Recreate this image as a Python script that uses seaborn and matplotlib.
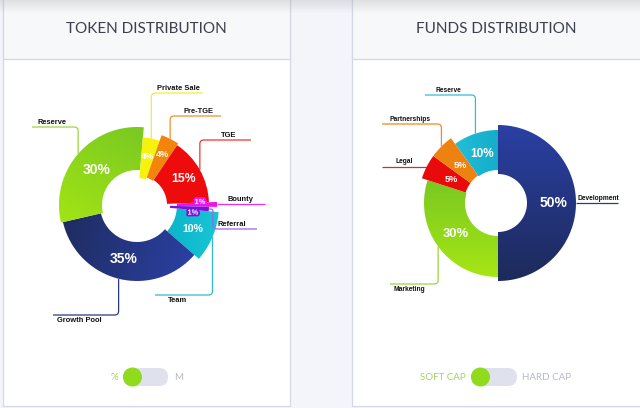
import numpy as np
import matplotlib
matplotlib.use("Agg")
import matplotlib.pyplot as plt
import matplotlib.patheffects as pe
import seaborn as sns
from matplotlib.colors import to_rgb
from matplotlib.path import Path
from matplotlib.patches import PathPatch, FancyBboxPatch, Rectangle, Circle

# ---------------- data ----------------
token_labels = ["Private Sale", "Pre-TGE", "TGE", "Bounty", "Referral", "Team", "Growth Pool", "Reserve"]
token_values = [4, 4, 15, 1, 1, 10, 35, 30]

funds_labels = ["Development", "Marketing", "Legal", "Partnerships", "Reserve"]
funds_values = [50, 30, 5, 5, 10]

panel_titles = ["TOKEN DISTRIBUTION", "FUNDS DISTRIBUTION"]
toggle_left = ["%", "M"]
toggle_right = ["SOFT CAP", "HARD CAP"]

# ---------------- style ----------------
sns.set_theme(style="white")
plt.rcParams["font.family"] = ["Liberation Sans", "DejaVu Sans"]

W, H = 640, 408
fig = plt.figure(figsize=(W / 100, H / 100), dpi=100)
fig.patch.set_facecolor("#f3f5fa")

bg = fig.add_axes([0, 0, 1, 1])
bg.set_xlim(0, W)
bg.set_ylim(H, 0)
bg.set_axis_off()

border = "#d4d8e6"
for x0, x1 in [(3, 290), (352, 646)]:
    bg.add_patch(Rectangle((x0, -2), x1 - x0, 408, facecolor="white", edgecolor=border, lw=0.9, zorder=1))
    bg.add_patch(Rectangle((x0, -2), x1 - x0, 61, facecolor="#f7f8fa", edgecolor=border, lw=0.9, zorder=1.1))

grad = np.zeros((14, 2, 4))
grad[..., :3] = 0.55
grad[..., 3] = np.linspace(0.22, 0.0, 14)[:, None]
bg.imshow(grad, extent=[0, W, 14, 0], aspect="auto", zorder=2, interpolation="bilinear")

for cx, t in zip([146, 496], panel_titles):
    bg.text(cx, 29, t, ha="center", va="center", fontsize=11, color="#3b404c",
            family=["Lato", "DejaVu Sans"], zorder=3)

green_knob = "#8fdb1c"
track = "#dfe2ec"
green_txt = "#9fd45e"
grey_txt = "#b6b9c6"
tfont = ["Lato", "DejaVu Sans"]
bg.add_patch(FancyBboxPatch((123, 368), 45, 18, boxstyle="round,pad=0,rounding_size=9",
                            facecolor=track, edgecolor="none", zorder=3))
bg.add_patch(Circle((132.5, 377), 9.5, facecolor=green_knob, edgecolor="none", zorder=4))
bg.text(118, 377.5, toggle_left[0], ha="right", va="center", fontsize=7, color=green_txt, family=tfont, zorder=4)
bg.text(174, 377.5, toggle_left[1], ha="left", va="center", fontsize=7, color=grey_txt, family=tfont, zorder=4)
bg.add_patch(FancyBboxPatch((471, 368), 46, 18, boxstyle="round,pad=0,rounding_size=9",
                            facecolor=track, edgecolor="none", zorder=3))
bg.add_patch(Circle((480.5, 377), 9.5, facecolor=green_knob, edgecolor="none", zorder=4))
bg.text(466, 377.5, toggle_right[0], ha="right", va="center", fontsize=7, color=green_txt, family=tfont, zorder=4)
bg.text(522, 377.5, toggle_right[1], ha="left", va="center", fontsize=7, color=grey_txt, family=tfont, zorder=4)


def leader(pts, color, rad=4.0):
    verts = [pts[0]]
    codes = [Path.MOVETO]
    for i in range(1, len(pts) - 1):
        p0, p1, p2 = map(np.array, (pts[i - 1], pts[i], pts[i + 1]))
        d1 = (p1 - p0) / max(np.linalg.norm(p1 - p0), 1e-6)
        d2 = (p2 - p1) / max(np.linalg.norm(p2 - p1), 1e-6)
        r = min(rad, np.linalg.norm(p1 - p0) / 2, np.linalg.norm(p2 - p1) / 2)
        verts += [tuple(p1 - d1 * r), tuple(p1), tuple(p1 + d2 * r)]
        codes += [Path.LINETO, Path.CURVE3, Path.CURVE3]
    verts.append(pts[-1])
    codes.append(Path.LINETO)
    bg.add_patch(PathPatch(Path(verts, codes), facecolor="none", edgecolor=color, lw=0.9,
                           zorder=5, capstyle="butt"))


def donut(cx, cy, labels, values, colors, r_in, r_out, lab_r, lab_fs, lab_off, offset_deg,
          leaders, name_fs, gradients, line_colors):
    R = 100
    pax = fig.add_axes([(cx - R) / W, (H - cy - R) / H, 2 * R / W, 2 * R / H], projection="polar")
    pax.set_theta_zero_location("N")
    pax.set_theta_direction(-1)
    pax.set_ylim(0, R)
    pax.set_axis_off()
    vals = np.asarray(values, float)
    frac = vals / vals.sum()
    widths = 2 * np.pi * frac
    starts = np.deg2rad(offset_deg) + np.concatenate([[0], np.cumsum(widths)[:-1]])
    ri = np.asarray(r_in, float)
    ro = np.asarray(r_out, float)
    bars = pax.bar(starts, ro - ri, width=widths, bottom=ri, align="edge", color=colors,
                   edgecolor="none", linewidth=0)
    yy, xx = np.mgrid[cy - R:cy + R:400j, cx - R:cx + R:400j]
    for i, g in enumerate(gradients):
        if g is None:
            continue
        c1, c2, dx, dy = g
        d = np.array([dx, dy], float)
        d /= np.linalg.norm(d)
        th = np.linspace(starts[i], starts[i] + widths[i], 120)
        ox = cx + ro[i] * np.sin(th)
        oy = cy - ro[i] * np.cos(th)
        ix = cx + ri[i] * np.sin(th[::-1])
        iy = cy - ri[i] * np.cos(th[::-1])
        px = np.concatenate([ox, ix, ox[:1]])
        py = np.concatenate([oy, iy, oy[:1]])
        proj = px * d[0] + py * d[1]
        lo, hi = proj.min(), proj.max()
        t = np.clip(((xx * d[0] + yy * d[1]) - lo) / (hi - lo), 0, 1)[..., None]
        img = (1 - t) * np.array(to_rgb(c1)) + t * np.array(to_rgb(c2))
        im = bg.imshow(img, extent=[cx - R, cx + R, cy + R, cy - R], zorder=4,
                       interpolation="bilinear", aspect="auto")
        clip = PathPatch(Path(np.column_stack([px, py])), transform=bg.transData,
                         facecolor="none", edgecolor="none")
        bg.add_patch(clip)
        im.set_clip_path(clip)
        bars[i].set_facecolor((0, 0, 0, 0))
    mids = starts + widths / 2
    for m, v, lr, fs, off, col in zip(mids, values, lab_r, lab_fs, lab_off, colors):
        kw = {}
        if off is not None:
            kw["path_effects"] = [pe.withStroke(linewidth=2.6, foreground=col)]
            o = off
        else:
            o = (0, 0)
        pax.annotate(f"{v}%", (m, lr), xytext=o, textcoords="offset pixels",
                     ha="center", va="center", color="white",
                     fontweight="bold", fontsize=fs, **kw)
    for lab, m, r, col, ld in zip(labels, mids, ro, line_colors, leaders):
        ax_ = cx + r * np.sin(m)
        ay_ = cy - r * np.cos(m)
        kind, ly, ex, tx, where = ld
        if kind == "v":
            pts = [(ax_, ay_), (ax_, ly), (ex, ly)]
        elif kind == "h":
            ly = ay_
            pts = [(ax_, ay_), (ex, ly)]
        else:
            pts = [(ax_, ay_), (ax_ + 4, ay_), (ax_ + 4, ly), (ex, ly)]
        leader(pts, col)
        if where == "above":
            bg.text(tx, ly - 1.2, lab, ha="left", va="bottom", fontsize=name_fs,
                    fontweight="bold", color="#111111", zorder=6)
        else:
            bg.text(tx, ly + 1.8, lab, ha="left", va="top", fontsize=name_fs,
                    fontweight="bold", color="#111111", zorder=6)


token_colors = ["#f7f20c", "#f2860c", "#ee0b0b", "#f012ec", "#7a12de", "#12bccd", "#24357c", "#8ed51b"]
token_lines = ["#f2ee30", "#f0922a", "#ee3535", "#e830e8", "#a060f0", "#30bcd0", "#2a3a80", "#9ad640"]
token_grad = [None, None, None, None, None,
              ("#0cb4ca", "#18c6d4", 1, 0),
              ("#1f2c60", "#2a40a2", 1, 0.3),
              ("#7ac922", "#a2e414", -0.5, 1)]
token_r_in = [27, 29, 30, 40, 33, 40, 37, 35]
token_r_out = [68, 74, 72, 80, 72, 82, 76, 78]
token_lab_r = [50, 56, 53, 62, 56, 61, 56, 54]
token_lab_fs = [6.6, 6.6, 8.8, 5.4, 5.4, 7.6, 10, 10]
token_lab_off = [None, None, None, (1, 2), (0, -5), None, None, None]
token_leaders = [
    ("v", 93, 203, 157, "above"),
    ("v", 116, 221, 183, "above"),
    ("v", 140, 251, 221, "above"),
    ("h", 0, 265, 228, "above"),
    ("e", 229, 257, 218, "above"),
    ("v", 295, 155, 168, "below"),
    ("v", 315, 53, 57, "below"),
    ("v", 127, 32, 38, "above"),
]
donut(137, 205, token_labels, token_values, token_colors, token_r_in, token_r_out,
      token_lab_r, token_lab_fs, token_lab_off, 5, token_leaders, 5.4, token_grad, token_lines)

funds_colors = ["#243683", "#8fd61b", "#e90b0b", "#ee8210", "#19b6d2"]
funds_lines = ["#2a3a88", "#9ad640", "#ee2020", "#ee8a20", "#30bcd6"]
funds_grad = [("#2a40a4", "#1d2a5a", 0, 1),
              ("#7ac822", "#a6e614", 0, 1),
              None, None,
              ("#22bed8", "#14adca", 1, 0)]
funds_r_in = [29, 33, 34, 34, 33]
funds_r_out = [78, 74, 80, 80, 73]
funds_lab_r = [56, 52, 52, 53, 52]
funds_lab_fs = [10, 9.4, 6.6, 6.6, 8.5]
funds_lab_off = [None] * 5
funds_leaders = [
    ("h", 0, 618, 577, "above"),
    ("v", 284, 390, 394, "below"),
    ("h", 0, 382, 395, "above"),
    ("v", 124, 382, 389, "above"),
    ("v", 95, 425, 435, "above"),
]
donut(498, 203, funds_labels, funds_values, funds_colors, funds_r_in, funds_r_out,
      funds_lab_r, funds_lab_fs, funds_lab_off, 0, funds_leaders, 4.8, funds_grad, funds_lines)

fig.savefig("out.png", dpi=100, facecolor=fig.get_facecolor())
